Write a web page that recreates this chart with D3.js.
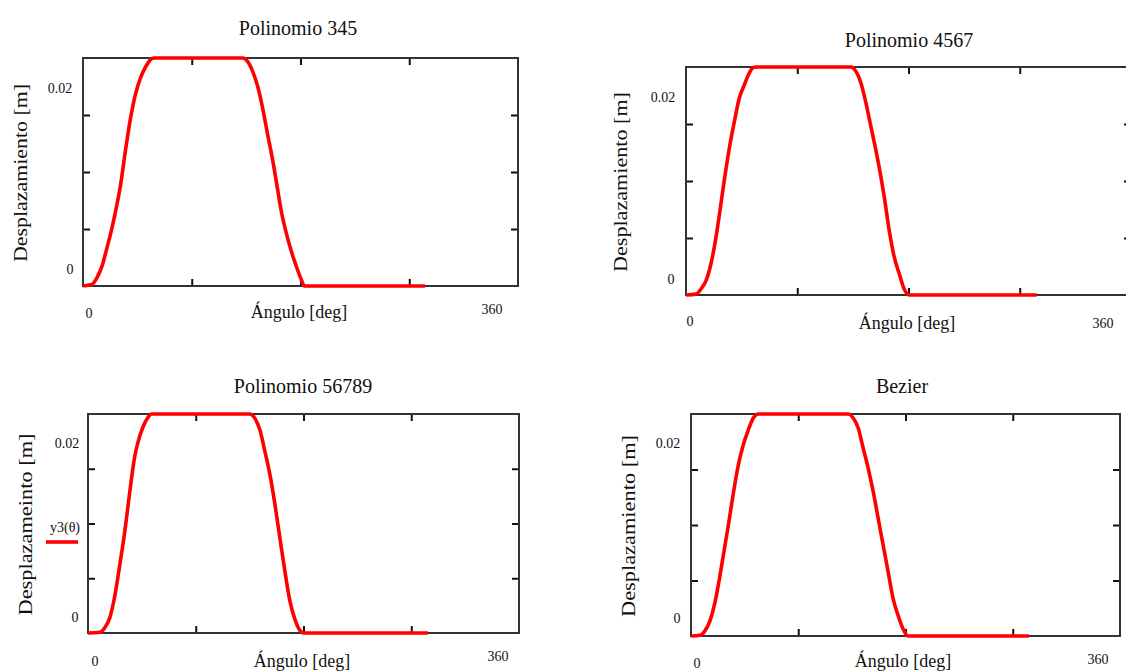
<!DOCTYPE html>
<html>
<head>
<meta charset="utf-8">
<script src="https://cdn.jsdelivr.net/npm/d3@7"></script>
<style>
  body { margin: 0; background: #fff; }
  text { font-family: "Liberation Serif", "Times New Roman", serif; fill: #111; }
</style>
</head>
<body>
<div id="chart"></div>
<script>
// angle [deg] and displacement [m]
var ang345 = [0, 7.5, 11.6, 15.8, 19.9, 24.1, 28.2, 31.0, 35.2, 39.3, 43.5, 47.6, 51.8, 55.9, 58.7,
  132.1, 136.2, 140.4, 144.6, 148.7, 152.9, 157.0, 161.2, 164.0, 168.1, 172.3, 176.4, 180.6, 183.3, 283];
var y345 = [0, 0.00016, 0.00085, 0.00202, 0.00387, 0.00589, 0.00824, 0.01010, 0.01365, 0.01683, 0.01930, 0.02090, 0.02200, 0.02274, 0.0229,
  0.0229, 0.02256, 0.02155, 0.02004, 0.01784, 0.01516, 0.01262, 0.00960, 0.00758, 0.00538, 0.00353, 0.00202, 0.00066, 0, 0];

var ang4567 = [0, 8.1, 12.1, 16.2, 20.2, 24.3, 28.3, 31.0, 35.0, 39.1, 43.1, 47.2, 51.2, 53.9, 56.6,
  133.4, 137.5, 141.5, 145.6, 149.6, 153.6, 157.7, 160.4, 164.4, 168.5, 172.5, 176.5, 180.6, 283.8];
var y4567 = [0, 0.00009, 0.00060, 0.00144, 0.00314, 0.00582, 0.00918, 0.01154, 0.01472, 0.01740, 0.01976, 0.02111, 0.02230, 0.02281, 0.0229,
  0.0229, 0.02246, 0.02130, 0.01928, 0.01692, 0.01456, 0.01186, 0.00985, 0.00648, 0.00380, 0.00213, 0.00060, 0, 0];

var ang56789 = [0, 9.8, 13.9, 18.1, 22.3, 26.5, 30.7, 33.5, 36.3, 39.0, 41.8, 46.0, 50.2, 53.0,
  135.2, 139.4, 143.6, 147.8, 152.0, 156.2, 160.3, 164.5, 168.7, 172.9, 177.1, 179.9, 284];
var y56789 = [0, 0.00007, 0.00053, 0.00156, 0.00382, 0.00708, 0.01058, 0.01337, 0.01614, 0.01843, 0.01997, 0.02157, 0.02256, 0.0229,
  0.0229, 0.02244, 0.02123, 0.01896, 0.01653, 0.01340, 0.00992, 0.00643, 0.00330, 0.00140, 0.00025, 0, 0];

var angBez = [0, 7.5, 11.7, 15.9, 20.1, 24.3, 28.5, 31.3, 35.5, 39.7, 43.9, 48.1, 52.3, 56.5,
  131.9, 136.1, 140.3, 144.5, 148.7, 152.9, 157.1, 161.3, 165.5, 169.7, 173.9, 178.1, 182.2, 283.6];
var yBez = [0, 0.00007, 0.00053, 0.00156, 0.00346, 0.00623, 0.00934, 0.01140, 0.01470, 0.01763, 0.01972, 0.02127, 0.02249, 0.0229,
  0.0229, 0.02249, 0.02146, 0.01937, 0.01729, 0.01489, 0.01211, 0.00934, 0.00657, 0.00380, 0.00208, 0.00069, 0, 0];

var titles = ["Polinomio 345", "Polinomio 4567", "Polinomio 56789", "Bezier"];
var yTitles = ["Desplazamiento [m]", "Desplazamiento [m]", "Desplazameinto [m]", "Desplazamiento [m]"];
var xTitle = "Ángulo [deg]";
var xLimits = [0, 360];
var xLimitLabels = ["0", "360"];
var yLimitLabels = ["0.02", "0"];
var xDivisions = [90, 180, 270];

var width = 1126, height = 671;

var svg = d3.select("#chart").append("svg")
  .attr("width", width)
  .attr("height", height)
  .style("display", "block");

svg.append("rect").attr("width", width).attr("height", height).attr("fill", "#fff");

// where each plot sits on the page
var panels = [
  {ang: ang345, y: y345, left: 83, right: 518, top: 58, bottom: 286,
   titleX: 298, titleY: 35, yTitleX: 21, yTitleLen: 178, xTitleX: 299, xTitleY: 318,
   yLabX: [60, 70], yLabOff: [6, -12], xLabX: [89, 492], xLabY: [318, 314]},
  {ang: ang4567, y: y4567, left: 686, right: 1131, top: 67, bottom: 295,
   titleX: 909, titleY: 47, yTitleX: 621, yTitleLen: 180, xTitleX: 907, xTitleY: 329,
   yLabX: [663, 671], yLabOff: [6, -11], xLabX: [690, 1103], xLabY: [326, 328]},
  {ang: ang56789, y: y56789, left: 88, right: 519, top: 414, bottom: 633,
   titleX: 303, titleY: 393, yTitleX: 26, yTitleLen: 182, xTitleX: 302, xTitleY: 667,
   yLabX: [67, 75], yLabOff: [6, -11], xLabX: [95, 498], xLabY: [666, 661],
   legend: "y3(θ)"},
  {ang: angBez, y: yBez, left: 691, right: 1120, top: 414, bottom: 636,
   titleX: 902, titleY: 393, yTitleX: 629, yTitleLen: 182, xTitleX: 903, xTitleY: 667,
   yLabX: [668, 677], yLabOff: [6, -13], xLabX: [697, 1098], xLabY: [668, 664]}
];

panels.forEach(function(p, i) {
  var yMax = d3.max(p.y);

  var x = d3.scaleLinear().domain(xLimits).range([p.left, p.right]);
  var y = d3.scaleLinear().domain([0, yMax]).range([p.bottom, p.top]);
  var yDivisions = [yMax / 4, yMax / 2, yMax * 3 / 4];

  var g = svg.append("g");

  // inward division marks on all four sides
  var axes = [
    [d3.axisBottom(x).tickValues(xDivisions), "translate(0," + p.bottom + ")"],
    [d3.axisTop(x).tickValues(xDivisions), "translate(0," + p.top + ")"],
    [d3.axisLeft(y).tickValues(yDivisions), "translate(" + p.left + ",0)"],
    [d3.axisRight(y).tickValues(yDivisions), "translate(" + p.right + ",0)"]
  ];
  axes.forEach(function(a) {
    var ax = g.append("g")
      .attr("transform", a[1])
      .call(a[0].tickSize(-7).tickSizeOuter(0).tickFormat(""));
    ax.select(".domain").remove();
    ax.selectAll("line").attr("stroke", "#111").attr("stroke-width", 2);
  });

  g.append("rect")
    .attr("x", p.left).attr("y", p.top)
    .attr("width", p.right - p.left).attr("height", p.bottom - p.top)
    .attr("fill", "none")
    .attr("stroke", "#333")
    .attr("stroke-width", 2);

  var pts = p.ang.map(function(a, j) { return [a, p.y[j]]; });
  var line = d3.line()
    .x(function(d) { return x(d[0]); })
    .y(function(d) { return y(d[1]); })
    .curve(d3.curveMonotoneX);

  g.append("path")
    .datum(pts)
    .attr("d", line)
    .attr("fill", "none")
    .attr("stroke", "#ff0000")
    .attr("stroke-width", 3.6)
    .attr("stroke-linejoin", "round");

  // titles
  g.append("text")
    .attr("x", p.titleX).attr("y", p.titleY)
    .attr("text-anchor", "middle")
    .style("font-size", "20px")
    .text(titles[i]);

  g.append("text")
    .attr("transform", "translate(" + p.yTitleX + "," + ((p.top + p.bottom) / 2 + 1) + ") rotate(-90)")
    .attr("text-anchor", "middle")
    .attr("dy", "0.35em")
    .attr("textLength", p.yTitleLen)
    .attr("lengthAdjust", "spacingAndGlyphs")
    .style("font-size", "18px")
    .text(yTitles[i]);

  g.append("text")
    .attr("x", p.xTitleX)
    .attr("y", p.xTitleY)
    .attr("text-anchor", "middle")
    .style("font-size", "18px")
    .text(xTitle);

  // limit labels
  [0.02, 0].forEach(function(v, k) {
    g.append("text")
      .attr("x", p.yLabX[k]).attr("y", y(v) + p.yLabOff[k])
      .attr("text-anchor", "middle")
      .style("font-size", "14px")
      .text(yLimitLabels[k]);
  });
  xLimitLabels.forEach(function(t, k) {
    g.append("text")
      .attr("x", p.xLabX[k]).attr("y", p.xLabY[k])
      .attr("text-anchor", "middle")
      .style("font-size", "14px")
      .text(t);
  });

  if (p.legend) {
    g.append("text")
      .attr("x", 65).attr("y", 532)
      .attr("text-anchor", "middle")
      .style("font-size", "14px")
      .text(p.legend);
    g.append("line")
      .attr("x1", 46).attr("x2", 78)
      .attr("y1", 542).attr("y2", 542)
      .attr("stroke", "#ff0000")
      .attr("stroke-width", 3.6);
  }
});
</script>
</body>
</html>
